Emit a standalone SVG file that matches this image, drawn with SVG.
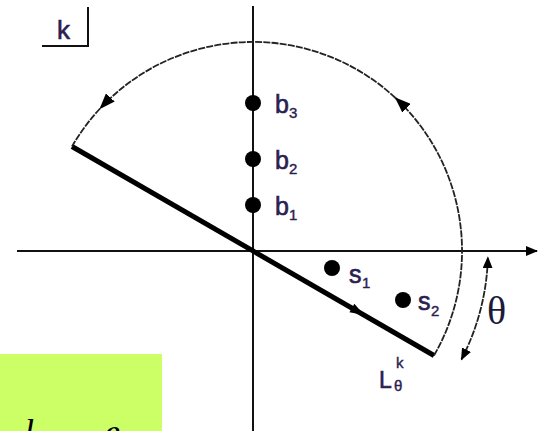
<svg xmlns="http://www.w3.org/2000/svg" width="545" height="431" viewBox="0 0 545 431">
<defs>
<style>
.axis{stroke:#111;stroke-width:2;fill:none}
.arc{stroke:#222;stroke-width:1.8;fill:none;stroke-dasharray:7 1.2}
.thick{stroke:#000;stroke-width:5;fill:none}
.dot{fill:#000}
.lbl{font-family:"Liberation Sans",Arial,sans-serif;fill:#2a2050;stroke:#2a2050;stroke-width:0.6}
.sub{font-family:"Liberation Sans",Arial,sans-serif;fill:#2a2050;stroke:#2a2050;stroke-width:0.4;font-size:15px}
</style>
<marker id="ah" viewBox="0 0 12 10" refX="11" refY="5" markerWidth="12" markerHeight="10" markerUnits="userSpaceOnUse" orient="auto-start-reverse">
<path d="M0,0 L12,5 L0,10 Z" fill="#000"/>
</marker>
<marker id="ahb" viewBox="0 0 16 12" refX="15" refY="6" markerWidth="16" markerHeight="12" markerUnits="userSpaceOnUse" orient="auto">
<path d="M0,0 L16,6 L0,12 Z" fill="#000"/>
</marker>
</defs>
<rect x="0" y="0" width="545" height="431" fill="#fff"/>
<g id="background-note">
<rect x="0" y="354" width="162" height="77" fill="#ccff66"/>
<text x="24" y="444" font-family="'Liberation Serif',serif" font-style="italic" font-size="36" fill="#000">l</text>
<text x="104" y="444" font-family="'Liberation Serif',serif" font-style="italic" font-size="36" fill="#000">e</text>
</g>
<g id="connectors">
<line class="axis" x1="17" y1="251" x2="537" y2="251" marker-end="url(#ah)"/>
<line class="axis" x1="253" y1="6" x2="253" y2="431"/>
<line class="thick" x1="72" y1="146.5" x2="434" y2="355.5"/>
<polygon points="364,315 349.4,312.3 354.4,303.7" fill="#000"/>
<path class="arc" d="M434,355.5 A209,209 0 0 0 395.5,98" marker-end="url(#ahb)"/>
<path class="arc" d="M395.5,98 A209,209 0 0 0 100.1,108.5" marker-end="url(#ahb)"/>
<path class="arc" d="M100.1,108.5 A209,209 0 0 0 72,146.5"/>
<path class="arc" d="M461.4,359.5 A235,235 0 0 0 487.9,257.2" marker-start="url(#ah)" marker-end="url(#ah)"/>
</g>
<g id="frame-k">
<polyline points="42,46 88,46 88,7" fill="none" stroke="#111" stroke-width="2"/>
<text class="lbl" x="57" y="39" font-size="26">k</text>
</g>
<g id="b3">
<circle class="dot" cx="253" cy="103" r="8"/>
<text class="lbl" x="275" y="113" font-size="25">b</text>
<text class="sub" x="289" y="118">3</text>
</g>
<g id="b2">
<circle class="dot" cx="253" cy="159" r="8"/>
<text class="lbl" x="275" y="169" font-size="25">b</text>
<text class="sub" x="289" y="174">2</text>
</g>
<g id="b1">
<circle class="dot" cx="253" cy="205" r="8"/>
<text class="lbl" x="275" y="215" font-size="25">b</text>
<text class="sub" x="289" y="220">1</text>
</g>
<g id="s1">
<circle class="dot" cx="332" cy="268" r="8"/>
<text class="lbl" x="349" y="283" font-size="25">s</text>
<text class="sub" x="362" y="288">1</text>
</g>
<g id="s2">
<circle class="dot" cx="403" cy="300" r="8"/>
<text class="lbl" x="418" y="310" font-size="25">s</text>
<text class="sub" x="431" y="316">2</text>
</g>
<g id="label-L">
<text class="lbl" x="379" y="388" font-size="23">L</text>
<text class="sub" x="396" y="368" font-size="18">k</text>
<text class="sub" x="394" y="391" font-size="16">θ</text>
</g>
<g id="label-theta">
<text x="487" y="324" font-family="'Liberation Serif',serif" font-size="40" fill="#1a1a3a">θ</text>
</g>
</svg>
